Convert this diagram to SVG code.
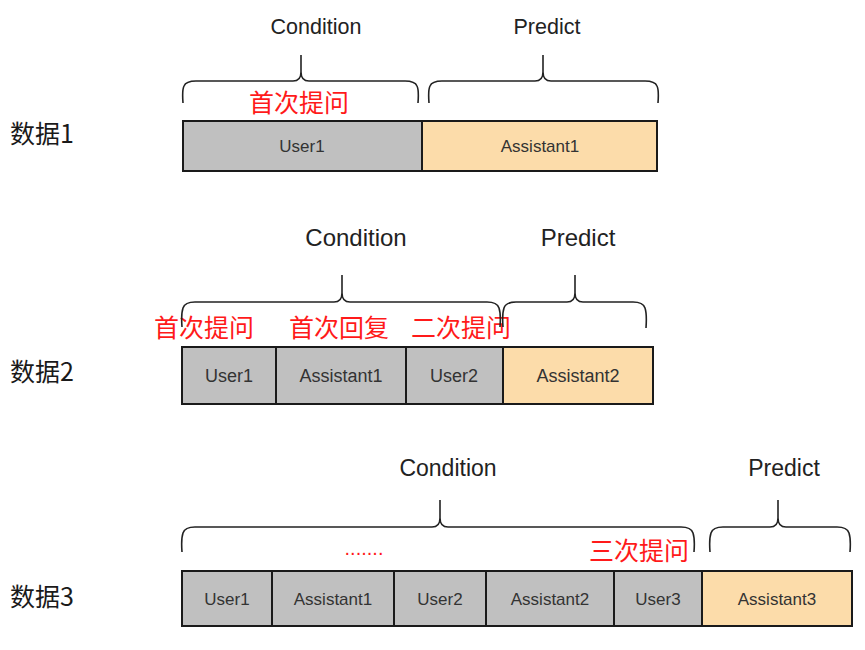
<svg xmlns="http://www.w3.org/2000/svg" width="865" height="650" viewBox="0 0 865 650">
<style>
.lbl{font-family:"Liberation Sans",Arial,sans-serif;fill:#222}
.cjk{font-family:"Noto Sans CJK SC","Liberation Sans",sans-serif}
.red{fill:#ff1a1a}
.row{fill:#1a1a1a}
.u{fill:#c0c0c0;stroke:#1a1a1a;stroke-width:2}
.a{fill:#fcdcaa;stroke:#1a1a1a;stroke-width:2}
.t{font-family:"Liberation Sans",Arial,sans-serif;fill:#333;text-anchor:middle}
.br{fill:none;stroke:#222;stroke-width:1.6}
</style>
<rect width="865" height="650" fill="#fff"/>
<g id="row1">
<text class="cjk row" x="10" y="143" font-size="25">数据1</text>
<g id="r1-user1"><rect class="u" x="183" y="121" width="239" height="50"/><text class="t" x="302" y="152" font-size="17">User1</text></g>
<g id="r1-assistant1"><rect class="a" x="422" y="121" width="235" height="50"/><text class="t" x="540" y="152" font-size="17">Assistant1</text></g>
<text class="cjk red" x="299" y="112" font-size="25" text-anchor="middle">首次提问</text>
</g>
<g id="row2">
<text class="cjk row" x="10" y="381" font-size="25">数据2</text>
<g id="r2-user1"><rect class="u" x="182" y="347" width="94" height="57"/><text class="t" x="229" y="382" font-size="18">User1</text></g>
<g id="r2-assistant1"><rect class="u" x="276" y="347" width="130" height="57"/><text class="t" x="341" y="382" font-size="18">Assistant1</text></g>
<g id="r2-user2"><rect class="u" x="406" y="347" width="97" height="57"/><text class="t" x="454" y="382" font-size="18">User2</text></g>
<g id="r2-assistant2"><rect class="a" x="503" y="347" width="150" height="57"/><text class="t" x="578" y="382" font-size="18">Assistant2</text></g>
<text class="cjk red" x="204" y="337" font-size="25" text-anchor="middle">首次提问</text>
<text class="cjk red" x="339" y="337" font-size="25" text-anchor="middle">首次回复</text>
<text class="cjk red" x="461" y="337" font-size="25" text-anchor="middle">二次提问</text>
</g>
<g id="row3">
<text class="cjk row" x="10" y="606" font-size="25">数据3</text>
<g id="r3-user1"><rect class="u" x="182" y="571" width="90" height="55"/><text class="t" x="227" y="605" font-size="17">User1</text></g>
<g id="r3-assistant1"><rect class="u" x="272" y="571" width="122" height="55"/><text class="t" x="333" y="605" font-size="17">Assistant1</text></g>
<g id="r3-user2"><rect class="u" x="394" y="571" width="92" height="55"/><text class="t" x="440" y="605" font-size="17">User2</text></g>
<g id="r3-assistant2"><rect class="u" x="486" y="571" width="128" height="55"/><text class="t" x="550" y="605" font-size="17">Assistant2</text></g>
<g id="r3-user3"><rect class="u" x="614" y="571" width="88" height="55"/><text class="t" x="658" y="605" font-size="17">User3</text></g>
<g id="r3-assistant3"><rect class="a" x="702" y="571" width="150" height="55"/><text class="t" x="777" y="605" font-size="17">Assistant3</text></g>
<text class="lbl red" x="364" y="555" font-size="20" text-anchor="middle">.......</text>
<text class="cjk red" x="639" y="560" font-size="25" text-anchor="middle">三次提问</text>
</g>
<g id="braces">
<text class="lbl" x="316" y="34" font-size="21.5" text-anchor="middle">Condition</text>
<text class="lbl" x="547" y="34" font-size="21.5" text-anchor="middle">Predict</text>
<path class="br" d="M183,103 Q182,90 184,86 Q186,81 196,81 L293,81 Q301,81 301,72 L301,55 M301,72 Q301,81 309,81 L405,81 Q415,81 417,86 Q419,90 418,103"/>
<path class="br" d="M429,103 Q428,90 430,86 Q432,81 442,81 L535,81 Q543,81 543,72 L543,55 M543,72 Q543,81 551,81 L645,81 Q655,81 657,86 Q659,90 658,103"/>
<text class="lbl" x="356" y="246" font-size="24" text-anchor="middle">Condition</text>
<text class="lbl" x="578" y="246" font-size="24" text-anchor="middle">Predict</text>
<path class="br" d="M182,327 Q181,314 183,308 Q185,302 195,302 L334,302 Q342,302 342,293 L342,275 M342,293 Q342,302 350,302 L487,302 Q497,302 499,308 Q501,314 500,327"/>
<path class="br" d="M503,327 Q502,314 504,308 Q506,302 516,302 L567,302 Q575,302 575,293 L575,275 M575,293 Q575,302 583,302 L633,302 Q643,302 645,308 Q647,314 646,328"/>
<text class="lbl" x="448" y="476" font-size="23" text-anchor="middle">Condition</text>
<text class="lbl" x="784" y="476" font-size="23" text-anchor="middle">Predict</text>
<path class="br" d="M182,552 Q181,539 183,533 Q185,527 195,527 L432,527 Q440,527 440,518 L440,500 M440,518 Q440,527 448,527 L681,527 Q691,527 693,533 Q695,539 694,552"/>
<path class="br" d="M710,552 Q709,539 711,533 Q713,527 723,527 L770,527 Q778,527 778,518 L778,500 M778,518 Q778,527 786,527 L837,527 Q847,527 849,533 Q851,539 850,552"/>
</g>
</svg>
